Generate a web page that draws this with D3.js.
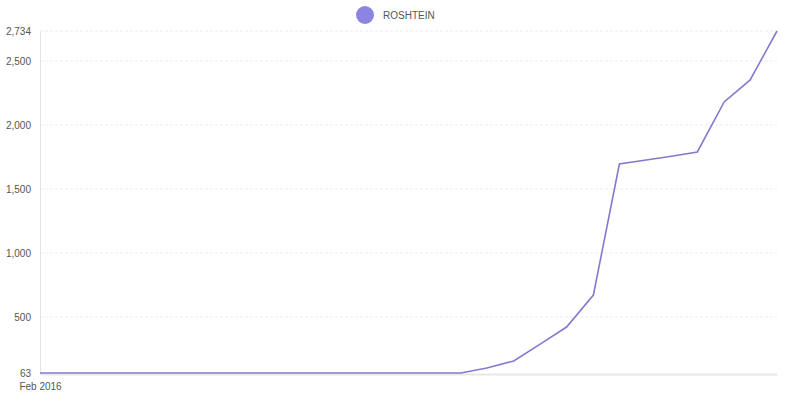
<!DOCTYPE html>
<html>
<head>
<meta charset="utf-8">
<script src="https://cdn.jsdelivr.net/npm/d3@7"></script>
<style>
    body { margin: 0; background: #fff; font-family: "Liberation Sans", Arial, sans-serif; }
    .tick text { fill: #555; font-size: 10px; }
</style>
</head>
<body>
<svg id="chart" width="800" height="399"></svg>
<script>
var seriesName = "ROSHTEIN";
var months = ["2016-02", "2016-03", "2016-04", "2016-05", "2016-06", "2016-07", "2016-08",
    "2016-09", "2016-10", "2016-11", "2016-12", "2017-01", "2017-02", "2017-03", "2017-04",
    "2017-05", "2017-06", "2017-07", "2017-08", "2017-09", "2017-10", "2017-11", "2017-12",
    "2018-01", "2018-02", "2018-03", "2018-04", "2018-05", "2018-06"];
var values = [63, 63, 63, 63, 63, 63, 63, 63, 63, 63, 63, 63, 63, 63, 63, 63, 63,
    102, 157, 290, 422, 672, 1695, 1727, 1758, 1789, 2180, 2352, 2734];
var yTicks = [63, 500, 1000, 1500, 2000, 2500, 2734];
var xTickLabels = ["Feb 2016"];

var color = "#8479cf";
var parse = d3.timeParse("%Y-%m");
var dates = months.map(parse);

var svg = d3.select("#chart");
var plotLeft = 40, plotRight = 777, plotTop = 31, plotBottom = 373;

var x = d3.scaleTime().domain(d3.extent(dates)).range([plotLeft, plotRight]);
var y = d3.scaleLinear().domain([63, 2734]).range([plotBottom, plotTop]);

// grid lines
svg.append("g")
    .selectAll("line").data(yTicks.slice(1)).enter().append("line")
    .attr("x1", plotLeft).attr("x2", plotRight)
    .attr("y1", function(d) { return y(d); })
    .attr("y2", function(d) { return y(d); })
    .attr("stroke", "#ececec")
    .attr("stroke-dasharray", "3,2");

// y axis labels
var yAxis = d3.axisLeft(y).tickValues(yTicks).tickSize(0).tickPadding(9)
    .tickFormat(d3.format(","));
svg.append("g").attr("transform", "translate(" + plotLeft + ",0)").call(yAxis)
    .call(function(g) { g.select(".domain").attr("stroke", "#e4e4e4"); });

// x axis
var xAxis = d3.axisBottom(x).tickValues([dates[0]]).tickSize(0).tickPadding(9)
    .tickFormat(function(d, i) { return xTickLabels[i]; });
svg.append("g").attr("transform", "translate(0," + (plotBottom + 1) + ")").call(xAxis)
    .call(function(g) { g.select(".domain").attr("stroke", "#e8e8e8").attr("stroke-width", 2); });

// line
var line = d3.line()
    .x(function(d, i) { return x(dates[i]); })
    .y(function(d) { return y(d); });
svg.append("path").datum(values)
    .attr("d", line)
    .attr("fill", "none")
    .attr("stroke", color)
    .attr("stroke-width", 1.6);

// legend
var legend = svg.append("g").attr("transform", "translate(365,15)");
legend.append("circle").attr("r", 9).attr("fill", "#8b84e2");
legend.append("text").attr("x", 18).attr("y", 4)
    .attr("font-size", 10).attr("fill", "#555").text(seriesName);
</script>
</body>
</html>
